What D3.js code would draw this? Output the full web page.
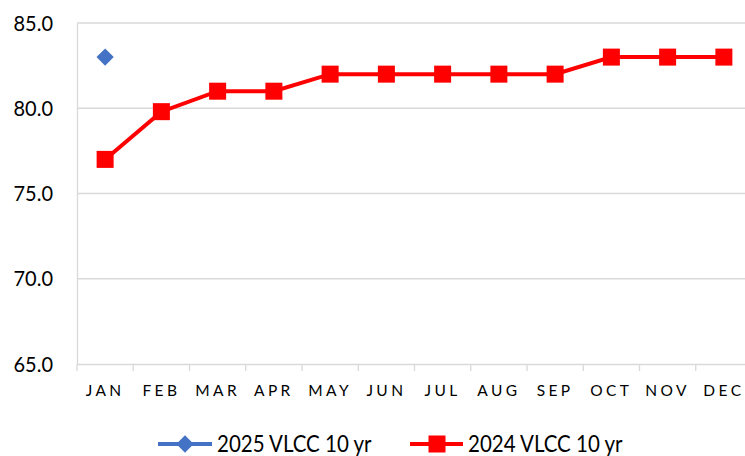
<!DOCTYPE html>
<html>
<head>
<meta charset="utf-8">
<script src="https://cdn.jsdelivr.net/npm/d3@7"></script>
<style>
  body { margin: 0; background: #fff; }
  svg text { font-family: Lato, "Open Sans", sans-serif; fill: #000; }
</style>
</head>
<body>
<div id="chart"></div>
<script>
// ! Data
var months = ["JAN", "FEB", "MAR", "APR", "MAY", "JUN", "JUL", "AUG", "SEP", "OCT", "NOV", "DEC"];
var vlcc_2024 = [77, 79.8, 81, 81, 82, 82, 82, 82, 82, 83, 83, 83];
var vlcc_2025 = [83];
var y_ticks = [65, 70, 75, 80, 85];
var series_names = ["2025 VLCC 10 yr", "2024 VLCC 10 yr"];

// ! Parameters
var width = 745, height = 456;
var plot_left = 77, plot_right = 752, plot_top = 23, plot_bottom = 364;
var text_stretch = "scale(1,1.1)";

var svg = d3.select("#chart")
  .append("svg")
  .attr("width", width)
  .attr("height", height);

var x = d3.scaleBand()
  .domain(months)
  .range([plot_left, plot_right]);

var y = d3.scaleLinear()
  .domain([65, 85])
  .range([plot_bottom, plot_top]);

// gridlines
svg.append("g")
  .selectAll("line")
  .data(y_ticks.filter(function(d) { return d > 65; }))
  .enter()
  .append("line")
  .attr("x1", plot_left)
  .attr("x2", plot_right)
  .attr("y1", function(d) { return y(d); })
  .attr("y2", function(d) { return y(d); })
  .attr("stroke", "#d9d9d9")
  .attr("stroke-width", 1.3);

// y axis
var yAxis = svg.append("g")
  .attr("transform", "translate(" + plot_left + ",0)")
  .call(d3.axisLeft(y).tickValues(y_ticks).tickFormat(d3.format(".1f")).tickSize(0).tickPadding(24));
yAxis.select(".domain").attr("stroke", "#d9d9d9").attr("stroke-width", 1.3);
yAxis.selectAll("text")
  .style("font-size", "20px")
  .attr("font-family", null)
  .attr("transform", text_stretch);

// x axis with ticks on category boundaries
var xAxis = svg.append("g")
  .attr("transform", "translate(0," + plot_bottom + ")")
  .call(d3.axisBottom(x).tickSize(0).tickPadding(21));
xAxis.select(".domain").attr("stroke", "#d9d9d9").attr("stroke-width", 1.3);
xAxis.selectAll("text")
  .style("font-size", "15.5px")
  .style("letter-spacing", "3.4px")
  .attr("font-family", null);

xAxis.selectAll(".boundary")
  .data(d3.range(months.length + 1))
  .enter()
  .append("line")
  .attr("class", "boundary")
  .attr("x1", function(i) { return plot_left + i * x.step(); })
  .attr("x2", function(i) { return plot_left + i * x.step(); })
  .attr("y1", 0)
  .attr("y2", 7)
  .attr("stroke", "#d9d9d9")
  .attr("stroke-width", 1.3);

function cx(i) { return x(months[i]) + x.bandwidth() / 2; }

// 2024 line
var line = d3.line()
  .x(function(d, i) { return cx(i); })
  .y(function(d) { return y(d); });

svg.append("path")
  .datum(vlcc_2024)
  .attr("d", line)
  .attr("fill", "none")
  .attr("stroke", "#ff0000")
  .attr("stroke-width", 4);

var sq = 17;
svg.selectAll(".sq")
  .data(vlcc_2024)
  .enter()
  .append("rect")
  .attr("class", "sq")
  .attr("x", function(d, i) { return cx(i) - sq / 2; })
  .attr("y", function(d) { return y(d) - sq / 2; })
  .attr("width", sq)
  .attr("height", sq)
  .attr("fill", "#ff0000");

// 2025 points
var diamond = d3.symbol().type(d3.symbolDiamond2).size(190);
svg.selectAll(".dia")
  .data(vlcc_2025)
  .enter()
  .append("path")
  .attr("class", "dia")
  .attr("d", diamond)
  .attr("transform", function(d, i) { return "translate(" + cx(i) + "," + y(d) + ")"; })
  .attr("fill", "#4472c4");

// ! Legend
var legend_y = 444;
var leg = svg.append("g");

leg.append("line")
  .attr("x1", 158).attr("x2", 212)
  .attr("y1", legend_y).attr("y2", legend_y)
  .attr("stroke", "#4472c4").attr("stroke-width", 4);
leg.append("path")
  .attr("d", diamond)
  .attr("transform", "translate(185," + legend_y + ")")
  .attr("fill", "#4472c4");
leg.append("g")
  .attr("transform", "translate(217," + legend_y + ") " + text_stretch)
  .append("text")
  .attr("dy", "0.35em")
  .style("font-size", "20.5px")
  .text(series_names[0]);

leg.append("line")
  .attr("x1", 410).attr("x2", 463)
  .attr("y1", legend_y).attr("y2", legend_y)
  .attr("stroke", "#ff0000").attr("stroke-width", 4);
leg.append("rect")
  .attr("x", 437 - sq / 2).attr("y", legend_y - sq / 2)
  .attr("width", sq).attr("height", sq)
  .attr("fill", "#ff0000");
leg.append("g")
  .attr("transform", "translate(468," + legend_y + ") " + text_stretch)
  .append("text")
  .attr("dy", "0.35em")
  .style("font-size", "20.5px")
  .text(series_names[1]);
</script>
</body>
</html>
